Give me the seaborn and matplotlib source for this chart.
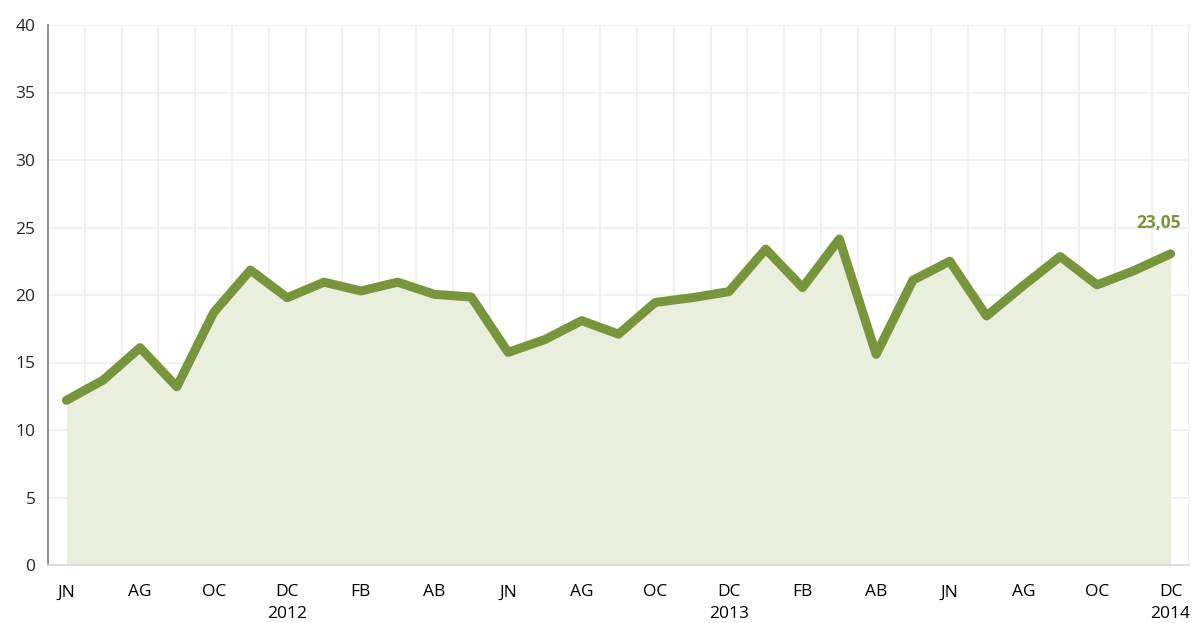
import matplotlib
matplotlib.use('Agg')
import matplotlib.pyplot as plt
import seaborn as sns
import pandas as pd

months = ['JN', 'JL', 'AG', 'SE', 'OC', 'NV', 'DC',
          'EN', 'FB', 'MR', 'AB', 'MY', 'JN', 'JL', 'AG', 'SE', 'OC', 'NV', 'DC',
          'EN', 'FB', 'MR', 'AB', 'MY', 'JN', 'JL', 'AG', 'SE', 'OC', 'NV', 'DC']
values = [12.2, 13.7, 16.1, 13.2, 18.7, 21.85, 19.8,
          20.95, 20.3, 20.95, 20.05, 19.85, 15.75, 16.7, 18.1, 17.1, 19.45, 19.8, 20.25,
          23.4, 20.55, 24.15, 15.6, 21.1, 22.5, 18.45, 20.7, 22.85, 20.75, 21.8, 23.05]
year_labels = {6: '2012', 18: '2013', 30: '2014'}
last_label = '23,05'

line_color = '#77963B'
fill_color = '#E9EFDC'

sns.set_style('white')
plt.rcParams['font.family'] = ['Open Sans', 'DejaVu Sans']

df = pd.DataFrame({'pos': range(len(values)), 'value': values})

fig = plt.figure(figsize=(11.95, 6.23), dpi=100)
ax = fig.add_axes([48 / 1195, 1 - 565 / 623, 1141 / 1195, 540 / 623])

ax.fill_between(df['pos'], 0, df['value'], color=fill_color, lw=0, zorder=1)
sns.lineplot(data=df, x='pos', y='value', color=line_color, lw=6.5,
             solid_capstyle='round', solid_joinstyle='round', ax=ax, zorder=3)

n = len(values)
ax.set_xlim(-0.5, n - 0.5)
ax.set_ylim(0, 40)

# gridlines and tick marks on category boundaries
ax.set_xticks([i - 0.5 for i in range(n + 1)])
ax.set_xticklabels([])
ax.set_xticks(range(0, n, 2), minor=True)
labels = []
for i in range(0, n, 2):
    lab = months[i]
    if i in year_labels:
        lab = lab + '\n' + year_labels[i]
    labels.append(lab)
ax.set_xticklabels(labels, minor=True, linespacing=1.5)
ax.tick_params(axis='x', which='minor', length=0, pad=14, labelsize=12.5, colors='#000000')
ax.tick_params(axis='x', which='major', length=5, color='#D9D9D9', width=1)
ax.set_yticks(range(0, 41, 5))
ax.tick_params(axis='y', length=6, color='#888888', labelsize=12.5, pad=3)

ax.grid(True, which='major', color='#EEEEEE', lw=1.2, zorder=0)
ax.set_axisbelow(True)
for side in ['top', 'right']:
    ax.spines[side].set_visible(False)
ax.spines['left'].set_color('#888888')
ax.spines['left'].set_linewidth(1.3)
ax.spines['bottom'].set_color('#D9D9D9')
ax.spines['bottom'].set_linewidth(1.3)
ax.set_xlabel('')
ax.set_ylabel('')

ax.annotate(last_label, xy=(n - 1, values[-1]), xytext=(-9, 22),
            textcoords='offset points', ha='center', va='center',
            color=line_color, fontsize=12.5, fontweight='bold')

fig.savefig('out.png', dpi=100)
